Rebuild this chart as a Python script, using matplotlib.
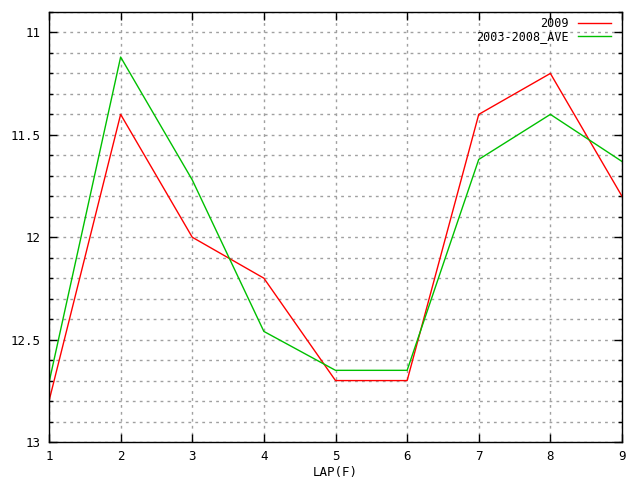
import numpy as np
import matplotlib
matplotlib.use("Agg")
import matplotlib.pyplot as plt
from matplotlib.ticker import MultipleLocator

laps = [1, 2, 3, 4, 5, 6, 7, 8, 9]
y2009 = [12.80, 11.40, 12.00, 12.20, 12.70, 12.70, 11.40, 11.20, 11.80]
yave = [12.71, 11.12, 11.72, 12.46, 12.65, 12.65, 11.62, 11.40, 11.63]
labels = ["2009", "2003-2008_AVE"]

plt.rcParams["font.family"] = ["DejaVu Sans Mono"]
plt.rcParams["font.size"] = 9

fig = plt.figure(figsize=(6.4, 4.8), dpi=100)
ax = fig.add_axes([49 / 640, 38 / 480, 573 / 640, 430 / 480])

ax.plot(laps, y2009, color="#ff0000", lw=1, label=labels[0])
ax.plot(laps, yave, color="#00c000", lw=1, label=labels[1])

ax.set_xlim(1, 9)
ax.set_ylim(13, 10.9)
ax.xaxis.set_major_locator(MultipleLocator(1))
ax.yaxis.set_minor_locator(MultipleLocator(0.1))
ax.set_yticks([11, 11.5, 12, 12.5, 13])
ax.set_yticklabels(["11", "11.5", "12", "12.5", "13"])

ax.grid(True, which="major", axis="x", color="#a0a0a0", ls=(0, (2, 3)), lw=1)
ax.grid(True, which="both", axis="y", color="#a0a0a0", ls=(0, (2, 3)), lw=1)
ax.tick_params(which="both", direction="in", top=True, right=True, width=1)
ax.tick_params(which="major", length=6)
ax.tick_params(which="minor", length=3)
ax.tick_params(axis="x", pad=6)
ax.tick_params(axis="y", pad=6)
for s in ax.spines.values():
    s.set_linewidth(1)

ax.set_xlabel("LAP(F)", va="center")
ax.xaxis.set_label_coords(0.5, -0.072)
ax.legend(loc="upper right", bbox_to_anchor=(1 - 11 / 573, 1 - 5 / 430),
          frameon=False, markerfirst=False, handlelength=2.8, borderaxespad=0,
          labelspacing=0.0, handletextpad=0.8, borderpad=0, fontsize=8.5)

fig.savefig("out.png", dpi=100)
